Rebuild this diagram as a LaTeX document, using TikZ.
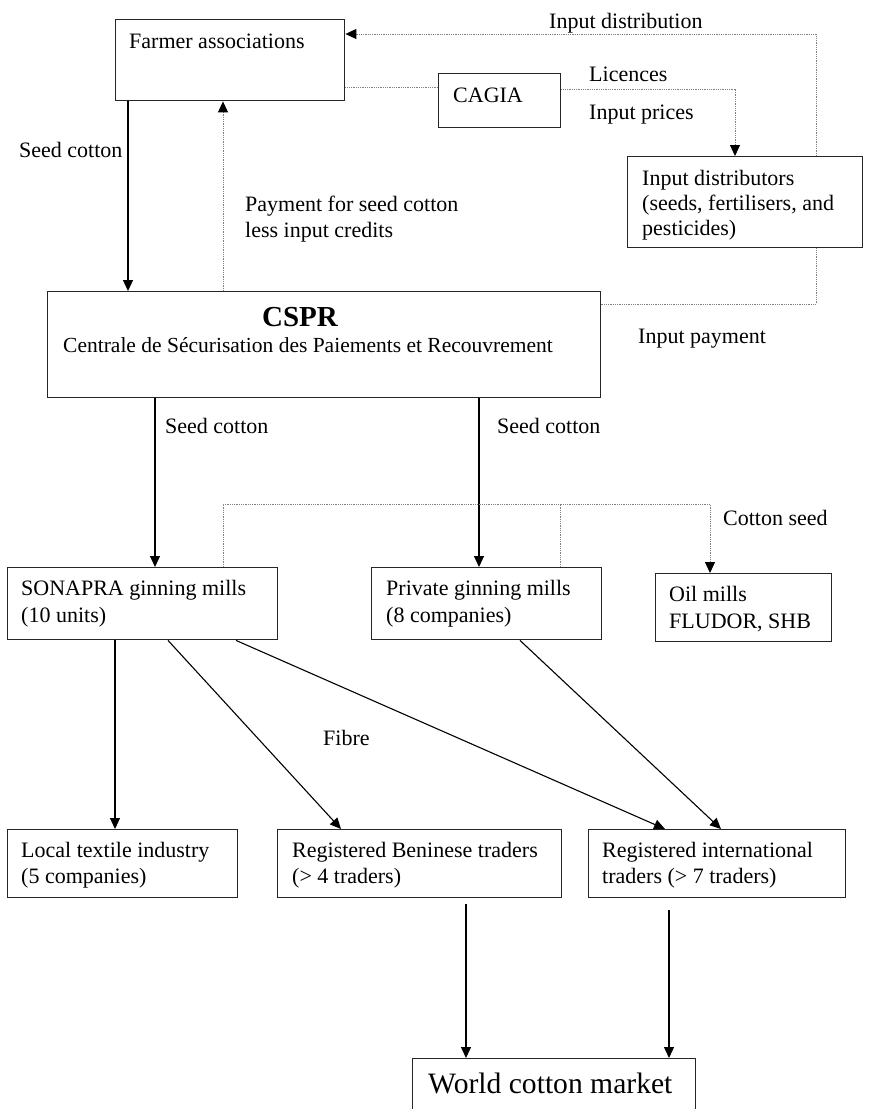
\documentclass[tikz,border=0pt]{standalone}
\usepackage{fontspec}
\setmainfont{Liberation Serif}
\usetikzlibrary{arrows.meta,calc}
\tikzset{
  box/.style={draw=black!85, line width=1.4pt, rectangle, inner sep=0pt, anchor=north west},
  txt/.style={inner sep=0pt, anchor=base west, align=left, font=\fontsize{22}{26}\selectfont},
  solid arr/.style={draw=black, line width=1.1pt, -{Triangle[length=11pt,width=10pt]}},
  dot line/.style={draw=black!50, line width=1pt, dash pattern=on 1pt off 0.8pt},
  dot arr/.style={dot line, -{Triangle[length=11pt,width=10pt,color=black]}},
}
\begin{document}
\begin{tikzpicture}[x=1pt,y=-1pt]
\clip (0,0) rectangle (874,1109);
\fill[white] (0,0) rectangle (874,1109);
% boxes
\node[box, minimum width=229pt, minimum height=81pt] (farmer) at (115,19) {};
\node[box, minimum width=122pt, minimum height=54pt] (cagia) at (438,73) {};
\node[box, minimum width=235pt, minimum height=91pt] (inputd) at (627,156) {};
\node[box, minimum width=553pt, minimum height=106pt] (cspr) at (47,291) {};
\node[box, minimum width=270pt, minimum height=72pt] (sonapra) at (7,567) {};
\node[box, minimum width=230pt, minimum height=72pt] (private) at (371,567) {};
\node[box, minimum width=176pt, minimum height=68pt] (oil) at (655,573) {};
\node[box, minimum width=230pt, minimum height=68pt] (local) at (7,829) {};
\node[box, minimum width=284pt, minimum height=68pt] (benin) at (277,829) {};
\node[box, minimum width=257pt, minimum height=68pt] (intl) at (588,829) {};
\node[box, minimum width=283pt, minimum height=80pt] (world) at (412,1058) {};
% texts (multi-line nodes are placed at the baseline of their last line)
\node[txt] (tfarmer) at (129,48) {Farmer associations};
\node[txt] (tcagia) at (453,102) {CAGIA};
\node[txt] (tinpdist) at (549,28) {Input distribution};
\node[txt] (tlic) at (589,81) {Licences};
\node[txt, font=\fontsize{22}{25}\selectfont] (tinputd) at (642,235) {Input distributors\\(seeds, fertilisers, and\\pesticides)};
\node[txt] (tprices) at (589,119) {Input prices};
\node[txt] (tseed0) at (19,157) {Seed cotton};
\node[txt] (tpay) at (245,237) {Payment for seed cotton\\less input credits};
\node[inner sep=0pt, anchor=base, font=\fontsize{29}{32}\selectfont\bfseries] (tcspr) at (300,326) {CSPR};
\node[inner sep=0pt, anchor=base west, font=\fontsize{21.5}{25}\selectfont] (tcsprsub) at (63,352) {Centrale de Sécurisation des Paiements et Recouvrement};
\node[txt] (tinpay) at (638,343) {Input payment};
\node[txt] (tseed1) at (165,433) {Seed cotton};
\node[txt] (tseed2) at (497,433) {Seed cotton};
\node[txt] (tcseed) at (723,525) {Cotton seed};
\node[txt, font=\fontsize{22}{27}\selectfont] (tsonapra) at (21,622) {SONAPRA ginning mills\\(10 units)};
\node[txt, font=\fontsize{22}{27}\selectfont] (tprivate) at (386,622) {Private ginning mills\\(8 companies)};
\node[txt, font=\fontsize{22}{27}\selectfont] (toil) at (669,628) {Oil mills\\FLUDOR, SHB};
\node[txt] (tfibre) at (323,745) {Fibre};
\node[txt] (tlocal) at (21,883) {Local textile industry\\(5 companies)};
\node[txt] (tbenin) at (292,883) {Registered Beninese traders\\(> 4 traders)};
\node[txt] (tintl) at (602,883) {Registered international\\traders (> 7 traders)};
\node[inner sep=0pt, anchor=base west, font=\fontsize{29.6}{32}\selectfont] (tworld) at (428,1093) {World cotton market};
% connector helper coordinates
\coordinate (xa) at (128,0);
\coordinate (xb) at (223,0);
\coordinate (ya) at (0,87);
\coordinate (yb) at (0,89);
\coordinate (xc) at (735,0);
\coordinate (xd) at (816,0);
\coordinate (yd) at (0,34);
\coordinate (ye) at (0,304);
\coordinate (xf) at (155,0);
\coordinate (xg) at (479,0);
\coordinate (yh) at (0,504);
\coordinate (xi) at (560,0);
\coordinate (xj) at (710,0);
\coordinate (b1) at (466,904);
\coordinate (b2) at (669,910);
% farmers -> CSPR
\draw[solid arr] (farmer.south -| xa) -- (cspr.north -| xa);
\draw[dot arr] (cspr.north -| xb) -- (farmer.south -| xb);
% farmers -- CAGIA
\draw[dot line] (farmer.east |- ya) -- (cagia.west |- ya);
% CAGIA -> input distributors
\draw[dot arr] (cagia.east |- yb) -- (xc |- yb) -- (inputd.north -| xc);
% input distributors -> farmers
\draw[dot arr] (inputd.north -| xd) -- (xd |- yd) -- (farmer.east |- yd);
% input distributors -- CSPR
\draw[dot line] (inputd.south -| xd) -- (xd |- ye) -- (cspr.east |- ye);
% CSPR -> ginning
\draw[solid arr] (cspr.south -| xf) -- (sonapra.north -| xf);
\draw[solid arr] (cspr.south -| xg) -- (private.north -| xg);
% cotton seed
\draw[dot arr] (sonapra.north -| xb) -- (xb |- yh) -- (xj |- yh) -- (oil.north -| xj);
\draw[dot line] (private.north -| xi) -- (xi |- yh);
% fibre
\draw[solid arr] (sonapra.south -| 115,0) -- (local.north -| 115,0);
\draw[solid arr] (sonapra.south -| 168,0) -- (benin.north -| 341,0);
\draw[solid arr] (sonapra.south -| 236,0) -- (intl.north -| 665,0);
\draw[solid arr] (private.south -| 520,0) -- (intl.north -| 721,0);
% to world market
\draw[solid arr] (b1) -- (b1 |- world.north);
\draw[solid arr] (b2) -- (b2 |- world.north);
\end{tikzpicture}
\end{document}
